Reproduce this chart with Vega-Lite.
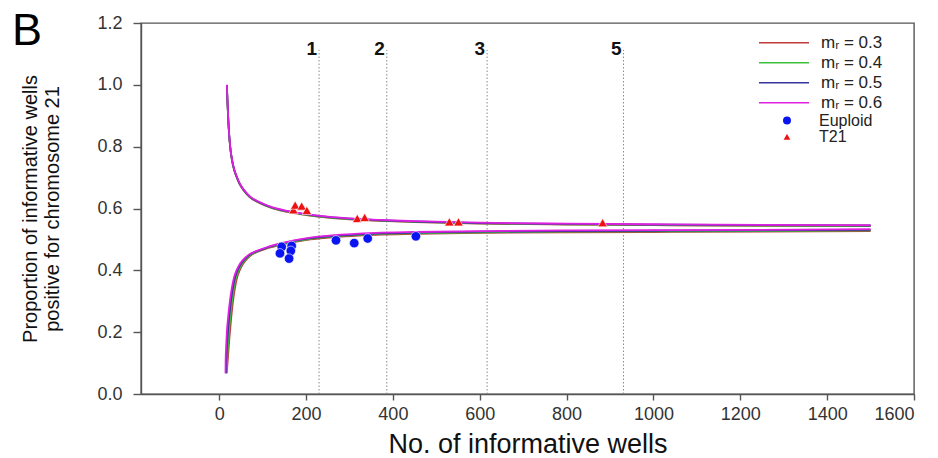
{
  "$schema": "https://vega.github.io/schema/vega-lite/v6.json",
  "autosize": {"type": "none"},
  "width": 773,
  "height": 371,
  "padding": {"left": 141, "top": 23, "right": 24, "bottom": 64},
  "background": "white",
  "title": {"text": "B", "anchor": "start", "frame": "group", "fontSize": 45, "fontWeight": "normal", "color": "#000", "font": "Liberation Sans", "dx": -129, "dy": 76, "offset": 0, "baseline": "alphabetic"},
  "config": {
    "font": "Liberation Sans",
    "view": {"stroke": "#555", "strokeWidth": 1.4},
    "axis": {"grid": false, "domainColor": "#555", "domainWidth": 1.4, "tickColor": "#555", "tickWidth": 1.4, "labelColor": "#333", "labelFont": "Liberation Sans", "titleFont": "Liberation Sans", "titleColor": "#111", "titleFontWeight": "normal"},
    "legend": {"labelFont": "Liberation Sans", "labelColor": "#222"}
  },
  "datasets": {
    "curves": [
      {"s":"mᵣ = 0.3","b":"u","n":17.7,"v":0.997},{"s":"mᵣ = 0.3","b":"u","n":19,"v":0.949},{"s":"mᵣ = 0.3","b":"u","n":20.5,"v":0.899},{"s":"mᵣ = 0.3","b":"u","n":22,"v":0.859},{"s":"mᵣ = 0.3","b":"u","n":24,"v":0.819},{"s":"mᵣ = 0.3","b":"u","n":26.5,"v":0.784},{"s":"mᵣ = 0.3","b":"u","n":29.5,"v":0.756},{"s":"mᵣ = 0.3","b":"u","n":34,"v":0.727},{"s":"mᵣ = 0.3","b":"u","n":40,"v":0.702},{"s":"mᵣ = 0.3","b":"u","n":47,"v":0.679},{"s":"mᵣ = 0.3","b":"u","n":56,"v":0.659},{"s":"mᵣ = 0.3","b":"u","n":70,"v":0.637},{"s":"mᵣ = 0.3","b":"u","n":94,"v":0.617},{"s":"mᵣ = 0.3","b":"u","n":120,"v":0.602},{"s":"mᵣ = 0.3","b":"u","n":150,"v":0.591},{"s":"mᵣ = 0.3","b":"u","n":186,"v":0.582},{"s":"mᵣ = 0.3","b":"u","n":232,"v":0.573},{"s":"mᵣ = 0.3","b":"u","n":300,"v":0.565},{"s":"mᵣ = 0.3","b":"u","n":370,"v":0.560},{"s":"mᵣ = 0.3","b":"u","n":450,"v":0.556},{"s":"mᵣ = 0.3","b":"u","n":600,"v":0.551},{"s":"mᵣ = 0.3","b":"u","n":800,"v":0.548},{"s":"mᵣ = 0.3","b":"u","n":1000,"v":0.546},{"s":"mᵣ = 0.3","b":"u","n":1250,"v":0.544},{"s":"mᵣ = 0.3","b":"u","n":1500,"v":0.543},
      {"s":"mᵣ = 0.4","b":"u","n":17.7,"v":0.998},{"s":"mᵣ = 0.4","b":"u","n":19,"v":0.95},{"s":"mᵣ = 0.4","b":"u","n":20.5,"v":0.90},{"s":"mᵣ = 0.4","b":"u","n":22,"v":0.86},{"s":"mᵣ = 0.4","b":"u","n":24,"v":0.82},{"s":"mᵣ = 0.4","b":"u","n":26.5,"v":0.785},{"s":"mᵣ = 0.4","b":"u","n":29.5,"v":0.757},{"s":"mᵣ = 0.4","b":"u","n":34,"v":0.728},{"s":"mᵣ = 0.4","b":"u","n":40,"v":0.703},{"s":"mᵣ = 0.4","b":"u","n":47,"v":0.68},{"s":"mᵣ = 0.4","b":"u","n":56,"v":0.66},{"s":"mᵣ = 0.4","b":"u","n":70,"v":0.638},{"s":"mᵣ = 0.4","b":"u","n":94,"v":0.618},{"s":"mᵣ = 0.4","b":"u","n":120,"v":0.603},{"s":"mᵣ = 0.4","b":"u","n":150,"v":0.592},{"s":"mᵣ = 0.4","b":"u","n":186,"v":0.583},{"s":"mᵣ = 0.4","b":"u","n":232,"v":0.574},{"s":"mᵣ = 0.4","b":"u","n":300,"v":0.566},{"s":"mᵣ = 0.4","b":"u","n":370,"v":0.561},{"s":"mᵣ = 0.4","b":"u","n":450,"v":0.557},{"s":"mᵣ = 0.4","b":"u","n":600,"v":0.552},{"s":"mᵣ = 0.4","b":"u","n":800,"v":0.549},{"s":"mᵣ = 0.4","b":"u","n":1000,"v":0.547},{"s":"mᵣ = 0.4","b":"u","n":1250,"v":0.545},{"s":"mᵣ = 0.4","b":"u","n":1500,"v":0.544},
      {"s":"mᵣ = 0.5","b":"u","n":17.7,"v":0.999},{"s":"mᵣ = 0.5","b":"u","n":19,"v":0.951},{"s":"mᵣ = 0.5","b":"u","n":20.5,"v":0.901},{"s":"mᵣ = 0.5","b":"u","n":22,"v":0.861},{"s":"mᵣ = 0.5","b":"u","n":24,"v":0.821},{"s":"mᵣ = 0.5","b":"u","n":26.5,"v":0.786},{"s":"mᵣ = 0.5","b":"u","n":29.5,"v":0.758},{"s":"mᵣ = 0.5","b":"u","n":34,"v":0.729},{"s":"mᵣ = 0.5","b":"u","n":40,"v":0.704},{"s":"mᵣ = 0.5","b":"u","n":47,"v":0.681},{"s":"mᵣ = 0.5","b":"u","n":56,"v":0.661},{"s":"mᵣ = 0.5","b":"u","n":70,"v":0.639},{"s":"mᵣ = 0.5","b":"u","n":94,"v":0.619},{"s":"mᵣ = 0.5","b":"u","n":120,"v":0.604},{"s":"mᵣ = 0.5","b":"u","n":150,"v":0.593},{"s":"mᵣ = 0.5","b":"u","n":186,"v":0.584},{"s":"mᵣ = 0.5","b":"u","n":232,"v":0.575},{"s":"mᵣ = 0.5","b":"u","n":300,"v":0.567},{"s":"mᵣ = 0.5","b":"u","n":370,"v":0.562},{"s":"mᵣ = 0.5","b":"u","n":450,"v":0.558},{"s":"mᵣ = 0.5","b":"u","n":600,"v":0.553},{"s":"mᵣ = 0.5","b":"u","n":800,"v":0.550},{"s":"mᵣ = 0.5","b":"u","n":1000,"v":0.548},{"s":"mᵣ = 0.5","b":"u","n":1250,"v":0.546},{"s":"mᵣ = 0.5","b":"u","n":1500,"v":0.545},
      {"s":"mᵣ = 0.6","b":"u","n":17.7,"v":1.0},{"s":"mᵣ = 0.6","b":"u","n":19,"v":0.952},{"s":"mᵣ = 0.6","b":"u","n":20.5,"v":0.902},{"s":"mᵣ = 0.6","b":"u","n":22,"v":0.862},{"s":"mᵣ = 0.6","b":"u","n":24,"v":0.822},{"s":"mᵣ = 0.6","b":"u","n":26.5,"v":0.787},{"s":"mᵣ = 0.6","b":"u","n":29.5,"v":0.759},{"s":"mᵣ = 0.6","b":"u","n":34,"v":0.730},{"s":"mᵣ = 0.6","b":"u","n":40,"v":0.705},{"s":"mᵣ = 0.6","b":"u","n":47,"v":0.682},{"s":"mᵣ = 0.6","b":"u","n":56,"v":0.662},{"s":"mᵣ = 0.6","b":"u","n":70,"v":0.640},{"s":"mᵣ = 0.6","b":"u","n":94,"v":0.620},{"s":"mᵣ = 0.6","b":"u","n":120,"v":0.605},{"s":"mᵣ = 0.6","b":"u","n":150,"v":0.594},{"s":"mᵣ = 0.6","b":"u","n":186,"v":0.585},{"s":"mᵣ = 0.6","b":"u","n":232,"v":0.576},{"s":"mᵣ = 0.6","b":"u","n":300,"v":0.568},{"s":"mᵣ = 0.6","b":"u","n":370,"v":0.563},{"s":"mᵣ = 0.6","b":"u","n":450,"v":0.559},{"s":"mᵣ = 0.6","b":"u","n":600,"v":0.554},{"s":"mᵣ = 0.6","b":"u","n":800,"v":0.551},{"s":"mᵣ = 0.6","b":"u","n":1000,"v":0.549},{"s":"mᵣ = 0.6","b":"u","n":1250,"v":0.547},{"s":"mᵣ = 0.6","b":"u","n":1500,"v":0.546},
      {"s":"mᵣ = 0.3","b":"l","n":17.4,"v":0.067},{"s":"mᵣ = 0.3","b":"l","n":19.2,"v":0.10},{"s":"mᵣ = 0.3","b":"l","n":21.4,"v":0.14},{"s":"mᵣ = 0.3","b":"l","n":23.2,"v":0.175},{"s":"mᵣ = 0.3","b":"l","n":25.1,"v":0.205},{"s":"mᵣ = 0.3","b":"l","n":27.6,"v":0.245},{"s":"mᵣ = 0.3","b":"l","n":30.6,"v":0.285},{"s":"mᵣ = 0.3","b":"l","n":33.6,"v":0.318},{"s":"mᵣ = 0.3","b":"l","n":36.6,"v":0.345},{"s":"mᵣ = 0.3","b":"l","n":41.6,"v":0.378},{"s":"mᵣ = 0.3","b":"l","n":46.6,"v":0.398},{"s":"mᵣ = 0.3","b":"l","n":51.6,"v":0.413},{"s":"mᵣ = 0.3","b":"l","n":61.6,"v":0.433},{"s":"mᵣ = 0.3","b":"l","n":74.6,"v":0.450},{"s":"mᵣ = 0.3","b":"l","n":93.6,"v":0.463},{"s":"mᵣ = 0.3","b":"l","n":113.6,"v":0.473},{"s":"mᵣ = 0.3","b":"l","n":140,"v":0.481},{"s":"mᵣ = 0.3","b":"l","n":175,"v":0.492},{"s":"mᵣ = 0.3","b":"l","n":210,"v":0.500},{"s":"mᵣ = 0.3","b":"l","n":260,"v":0.507},{"s":"mᵣ = 0.3","b":"l","n":360,"v":0.515},{"s":"mᵣ = 0.3","b":"l","n":450,"v":0.518},{"s":"mᵣ = 0.3","b":"l","n":600,"v":0.521},{"s":"mᵣ = 0.3","b":"l","n":800,"v":0.523},{"s":"mᵣ = 0.3","b":"l","n":1000,"v":0.524},{"s":"mᵣ = 0.3","b":"l","n":1250,"v":0.525},{"s":"mᵣ = 0.3","b":"l","n":1500,"v":0.527},
      {"s":"mᵣ = 0.4","b":"l","n":16.5,"v":0.067},{"s":"mᵣ = 0.4","b":"l","n":17.7,"v":0.10},{"s":"mᵣ = 0.4","b":"l","n":19.5,"v":0.14},{"s":"mᵣ = 0.4","b":"l","n":21.1,"v":0.175},{"s":"mᵣ = 0.4","b":"l","n":22.7,"v":0.205},{"s":"mᵣ = 0.4","b":"l","n":25.2,"v":0.245},{"s":"mᵣ = 0.4","b":"l","n":28.2,"v":0.285},{"s":"mᵣ = 0.4","b":"l","n":31.2,"v":0.318},{"s":"mᵣ = 0.4","b":"l","n":34.2,"v":0.345},{"s":"mᵣ = 0.4","b":"l","n":39.2,"v":0.378},{"s":"mᵣ = 0.4","b":"l","n":44.2,"v":0.398},{"s":"mᵣ = 0.4","b":"l","n":49.2,"v":0.413},{"s":"mᵣ = 0.4","b":"l","n":59.2,"v":0.433},{"s":"mᵣ = 0.4","b":"l","n":72.2,"v":0.450},{"s":"mᵣ = 0.4","b":"l","n":91.2,"v":0.463},{"s":"mᵣ = 0.4","b":"l","n":111.2,"v":0.473},{"s":"mᵣ = 0.4","b":"l","n":140,"v":0.483},{"s":"mᵣ = 0.4","b":"l","n":175,"v":0.494},{"s":"mᵣ = 0.4","b":"l","n":210,"v":0.502},{"s":"mᵣ = 0.4","b":"l","n":260,"v":0.509},{"s":"mᵣ = 0.4","b":"l","n":360,"v":0.517},{"s":"mᵣ = 0.4","b":"l","n":450,"v":0.520},{"s":"mᵣ = 0.4","b":"l","n":600,"v":0.523},{"s":"mᵣ = 0.4","b":"l","n":800,"v":0.525},{"s":"mᵣ = 0.4","b":"l","n":1000,"v":0.526},{"s":"mᵣ = 0.4","b":"l","n":1250,"v":0.527},{"s":"mᵣ = 0.4","b":"l","n":1500,"v":0.529},
      {"s":"mᵣ = 0.5","b":"l","n":15.5,"v":0.067},{"s":"mᵣ = 0.5","b":"l","n":16.3,"v":0.10},{"s":"mᵣ = 0.5","b":"l","n":17.5,"v":0.14},{"s":"mᵣ = 0.5","b":"l","n":18.9,"v":0.175},{"s":"mᵣ = 0.5","b":"l","n":20.3,"v":0.205},{"s":"mᵣ = 0.5","b":"l","n":22.8,"v":0.245},{"s":"mᵣ = 0.5","b":"l","n":25.8,"v":0.285},{"s":"mᵣ = 0.5","b":"l","n":28.8,"v":0.318},{"s":"mᵣ = 0.5","b":"l","n":31.8,"v":0.345},{"s":"mᵣ = 0.5","b":"l","n":36.8,"v":0.378},{"s":"mᵣ = 0.5","b":"l","n":41.8,"v":0.398},{"s":"mᵣ = 0.5","b":"l","n":46.8,"v":0.413},{"s":"mᵣ = 0.5","b":"l","n":56.8,"v":0.433},{"s":"mᵣ = 0.5","b":"l","n":69.8,"v":0.450},{"s":"mᵣ = 0.5","b":"l","n":88.8,"v":0.463},{"s":"mᵣ = 0.5","b":"l","n":108.8,"v":0.473},{"s":"mᵣ = 0.5","b":"l","n":140,"v":0.485},{"s":"mᵣ = 0.5","b":"l","n":175,"v":0.496},{"s":"mᵣ = 0.5","b":"l","n":210,"v":0.504},{"s":"mᵣ = 0.5","b":"l","n":260,"v":0.511},{"s":"mᵣ = 0.5","b":"l","n":360,"v":0.519},{"s":"mᵣ = 0.5","b":"l","n":450,"v":0.522},{"s":"mᵣ = 0.5","b":"l","n":600,"v":0.525},{"s":"mᵣ = 0.5","b":"l","n":800,"v":0.527},{"s":"mᵣ = 0.5","b":"l","n":1000,"v":0.528},{"s":"mᵣ = 0.5","b":"l","n":1250,"v":0.529},{"s":"mᵣ = 0.5","b":"l","n":1500,"v":0.531},
      {"s":"mᵣ = 0.6","b":"l","n":14.6,"v":0.067},{"s":"mᵣ = 0.6","b":"l","n":14.8,"v":0.10},{"s":"mᵣ = 0.6","b":"l","n":15.6,"v":0.14},{"s":"mᵣ = 0.6","b":"l","n":16.8,"v":0.175},{"s":"mᵣ = 0.6","b":"l","n":17.9,"v":0.205},{"s":"mᵣ = 0.6","b":"l","n":20.4,"v":0.245},{"s":"mᵣ = 0.6","b":"l","n":23.4,"v":0.285},{"s":"mᵣ = 0.6","b":"l","n":26.4,"v":0.318},{"s":"mᵣ = 0.6","b":"l","n":29.4,"v":0.345},{"s":"mᵣ = 0.6","b":"l","n":34.4,"v":0.378},{"s":"mᵣ = 0.6","b":"l","n":39.4,"v":0.398},{"s":"mᵣ = 0.6","b":"l","n":44.4,"v":0.413},{"s":"mᵣ = 0.6","b":"l","n":54.4,"v":0.433},{"s":"mᵣ = 0.6","b":"l","n":67.4,"v":0.450},{"s":"mᵣ = 0.6","b":"l","n":86.4,"v":0.463},{"s":"mᵣ = 0.6","b":"l","n":106.4,"v":0.473},{"s":"mᵣ = 0.6","b":"l","n":140,"v":0.487},{"s":"mᵣ = 0.6","b":"l","n":175,"v":0.498},{"s":"mᵣ = 0.6","b":"l","n":210,"v":0.506},{"s":"mᵣ = 0.6","b":"l","n":260,"v":0.513},{"s":"mᵣ = 0.6","b":"l","n":360,"v":0.521},{"s":"mᵣ = 0.6","b":"l","n":450,"v":0.524},{"s":"mᵣ = 0.6","b":"l","n":600,"v":0.527},{"s":"mᵣ = 0.6","b":"l","n":800,"v":0.529},{"s":"mᵣ = 0.6","b":"l","n":1000,"v":0.530},{"s":"mᵣ = 0.6","b":"l","n":1250,"v":0.531},{"s":"mᵣ = 0.6","b":"l","n":1500,"v":0.533}
    ],
    "pts": [
      {"type":"Euploid","n":144,"v":0.476},{"type":"Euploid","n":167,"v":0.479},{"type":"Euploid","n":140,"v":0.455},{"type":"Euploid","n":165,"v":0.463},{"type":"Euploid","n":161,"v":0.438},{"type":"Euploid","n":269,"v":0.497},{"type":"Euploid","n":311,"v":0.488},{"type":"Euploid","n":342,"v":0.503},{"type":"Euploid","n":453,"v":0.51},
      {"type":"T21","n":171,"v":0.596},{"type":"T21","n":175,"v":0.611},{"type":"T21","n":190,"v":0.608},{"type":"T21","n":202,"v":0.594},{"type":"T21","n":318,"v":0.568},{"type":"T21","n":335,"v":0.571},{"type":"T21","n":530,"v":0.557},{"type":"T21","n":551,"v":0.557},{"type":"T21","n":883,"v":0.554}
    ]
  },
  "layer": [
    {
      "data": {"values": [{"n":230,"lab":"1"},{"n":386,"lab":"2"},{"n":617,"lab":"3"},{"n":931,"lab":"5"}]},
      "mark": {"type": "rule", "color": "#8a8a8a", "strokeWidth": 1, "strokeDash": [1.5, 2]},
      "encoding": {
        "x": {"field": "n", "type": "quantitative", "scale": {"domain": [-180, 1600], "nice": false, "zero": false},
          "axis": {"values": [0,200,400,600,800,1000,1200,1400,1600], "format": "d", "labelFontSize": 18, "tickSize": 6, "labelPadding": 5, "title": "No. of informative wells", "titleFontSize": 27, "titleY": 58, "titleBaseline": "alphabetic"}},
        "y": {"datum": 0, "type": "quantitative", "scale": {"domain": [0, 1.2], "nice": false, "zero": false},
          "axis": {"values": [0,0.2,0.4,0.6,0.8,1.0,1.2], "format": ".1f", "labelFontSize": 18, "tickSize": 8, "labelPadding": 11, "title": ["Proportion of informative wells", "positive for chromosome 21"], "titleFontSize": 20, "titleLineHeight": 22, "titleX": -121, "titleY": 185.5, "titleAngle": -90, "titleAlign": "center", "titleBaseline": "top"}},
        "y2": {"datum": 1.113}
      }
    },
    {
      "data": {"values": [{"n":230,"lab":"1"},{"n":386,"lab":"2"},{"n":617,"lab":"3"},{"n":931,"lab":"5"}]},
      "mark": {"type": "text", "align": "right", "baseline": "alphabetic", "dx": -2, "fontSize": 19, "fontWeight": "bold", "color": "#111"},
      "encoding": {"x": {"field": "n", "type": "quantitative"}, "y": {"datum": 1.096, "type": "quantitative"}, "text": {"field": "lab", "type": "nominal"}}
    },
    {
      "data": {"name": "curves"},
      "mark": {"type": "line", "strokeWidth": 1.8, "interpolate": "monotone"},
      "encoding": {
        "x": {"field": "n", "type": "quantitative"},
        "y": {"field": "v", "type": "quantitative"},
        "stroke": {"field": "s", "type": "nominal",
          "scale": {"domain": ["mᵣ = 0.3", "mᵣ = 0.4", "mᵣ = 0.5", "mᵣ = 0.6"], "range": ["#c03a3a", "#3cc03c", "#34349a", "#e020e0"]},
          "legend": {"title": null, "orient": "none", "legendX": 617, "legendY": 9.7, "symbolType": "stroke", "symbolSize": 2500, "symbolStrokeWidth": 1.5, "clipHeight": 20, "labelFontSize": 17, "labelOffset": 11, "rowPadding": 0, "padding": 0}},
        "detail": {"field": "b"}
      }
    },
    {
      "data": {"name": "pts"},
      "mark": {"type": "point", "filled": true, "size": 90, "opacity": 1, "stroke": "#ffffff", "strokeWidth": 0.6},
      "encoding": {
        "x": {"field": "n", "type": "quantitative"},
        "y": {"field": "v", "type": "quantitative"},
        "fill": {"field": "type", "type": "nominal", "scale": {"domain": ["Euploid", "T21"], "range": ["#0a14f0", "#ee1111"]},
          "legend": {"title": null, "orient": "none", "legendX": 638, "legendY": 89.5, "labelFontSize": 16, "labelOffset": 24, "rowPadding": 0, "padding": 0, "symbolSize": 90}},
        "shape": {"field": "type", "type": "nominal", "scale": {"domain": ["Euploid", "T21"], "range": ["circle", "triangle-up"]},
          "legend": {"title": null, "orient": "none", "legendX": 638, "legendY": 89.5, "labelFontSize": 16, "labelOffset": 24, "rowPadding": 0, "padding": 0, "symbolSize": 90}}
      }
    }
  ]
}
